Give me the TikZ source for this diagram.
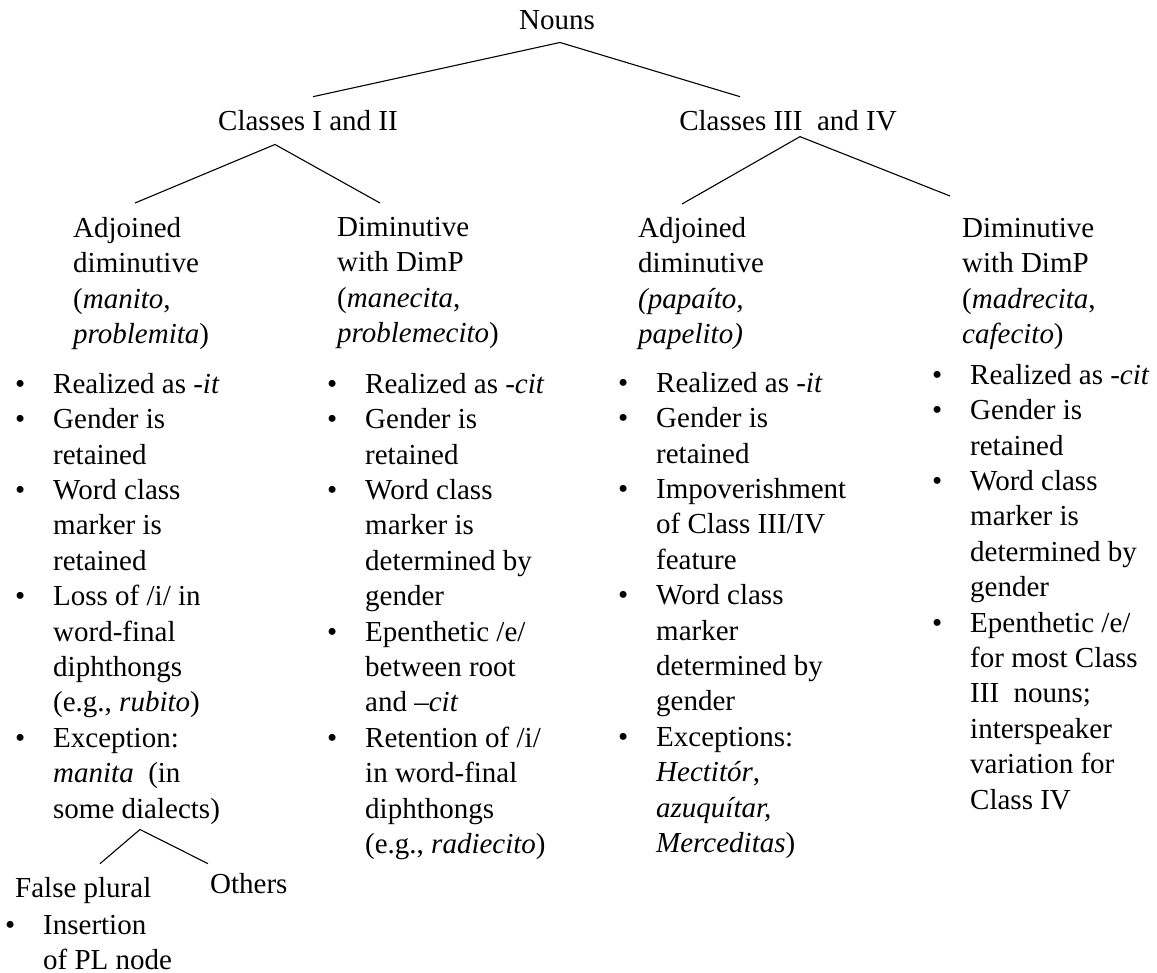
\documentclass[tikz,border=0pt]{standalone}
\usepackage{fontspec}
\setmainfont{Liberation Serif}
\usetikzlibrary{positioning}

\newcommand{\treefont}{\fontsize{29}{35.4}\selectfont}
\newcommand{\bul}{\makebox[38pt][l]{\textbullet}}
\newcommand{\bcont}{\hspace*{38pt}}

\begin{document}
\begin{tikzpicture}[
  x=1pt, y=-1pt,
  word/.style={inner sep=0pt, font=\treefont},
  head/.style={word, anchor=north west, align=left},
  blist/.style={word, anchor=north west, align=left},
  branch/.style={line width=1.1pt, color=black}
]
\useasboundingbox (0,0) rectangle (1157,973);

% Top levels of the tree
\node[word, anchor=base] (nouns) at (557,30) {Nouns};
\node[word, anchor=base] (cls12) at (308,131) {Classes I and II};
\node[word, anchor=base] (cls34) at (788,131) {Classes III\ \ and IV};

% Diminutive types
\node[head] (adj12) at (73,217) {Adjoined\\diminutive\\(\textit{manito},\\\textit{problemita})};
\node[head] (dim12) at (337,217) {Diminutive\\with DimP\\(\textit{manecita},\\\textit{problemecito})};
\node[head] (adj34) at (638,217) {Adjoined\\diminutive\\\textit{(papaíto,}\\\textit{papelito)}};
\node[head] (dim34) at (962,218) {Diminutive\\with DimP\\(\textit{madrecita},\\\textit{cafecito})};

% Property lists
\node[blist] (list1) at (15,373) {%
  \bul Realized as \textit{-it}\\
  \bul Gender is\\ \bcont retained\\
  \bul Word class\\ \bcont marker is\\ \bcont retained\\
  \bul Loss of /i/ in\\ \bcont word-final\\ \bcont diphthongs\\ \bcont (e.g., \textit{rubito})\\
  \bul Exception:\\ \bcont \textit{manita}\ \ (in\\ \bcont some dialects)};
\node[blist] (list2) at (327,373) {%
  \bul Realized as \textit{-cit}\\
  \bul Gender is\\ \bcont retained\\
  \bul Word class\\ \bcont marker is\\ \bcont determined by\\ \bcont gender\\
  \bul Epenthetic /e/\\ \bcont between root\\ \bcont and \textit{--cit}\\
  \bul Retention of /i/\\ \bcont in word-final\\ \bcont diphthongs\\ \bcont (e.g., \textit{radiecito})};
\node[blist] (list3) at (618,372) {%
  \bul Realized as \textit{-it}\\
  \bul Gender is\\ \bcont retained\\
  \bul Impoverishment\\ \bcont of Class III/IV\\ \bcont feature\\
  \bul Word class\\ \bcont marker\\ \bcont determined by\\ \bcont gender\\
  \bul Exceptions:\\ \bcont \textit{Hectitór},\\ \bcont \textit{azuquítar,}\\ \bcont \textit{Merceditas})};
\node[blist] (list4) at (932,364) {%
  \bul Realized as \textit{-cit}\\
  \bul Gender is\\ \bcont retained\\
  \bul Word class\\ \bcont marker is\\ \bcont determined by\\ \bcont gender\\
  \bul Epenthetic /e/\\ \bcont for most Class\\ \bcont III\ \ nouns;\\ \bcont interspeaker\\ \bcont variation for\\ \bcont Class IV};

% Split under the manita exception
\node[word, anchor=base west] (fplural) at (15,897) {False plural};
\node[word, anchor=base west] (others) at (210,893) {Others};
\node[blist] (plnode) at (5,915) {\bul Insertion\\ \bcont of PL node};

% Branches
\draw[branch] ([xshift=5pt,yshift=14pt]cls12.north) -- ([xshift=3pt,yshift=-12pt]nouns.south)
  -- ([xshift=-48pt,yshift=14pt]cls34.north);
\draw[branch] ([xshift=62pt,yshift=14pt]adj12.north west) -- ([xshift=-33pt,yshift=-13pt]cls12.south)
  -- ([xshift=43pt,yshift=14pt]dim12.north west);
\draw[branch] ([xshift=44pt,yshift=13pt]adj34.north west) -- ([xshift=12pt,yshift=-5pt]cls34.south)
  -- ([xshift=-12pt,yshift=22pt]dim34.north west);
\draw[branch] ([xshift=85pt,yshift=13pt]fplural.north west) -- ([xshift=125pt,yshift=-5pt]list1.south west)
  -- ([xshift=-2pt,yshift=9pt]others.north west);

\end{tikzpicture}
\end{document}
